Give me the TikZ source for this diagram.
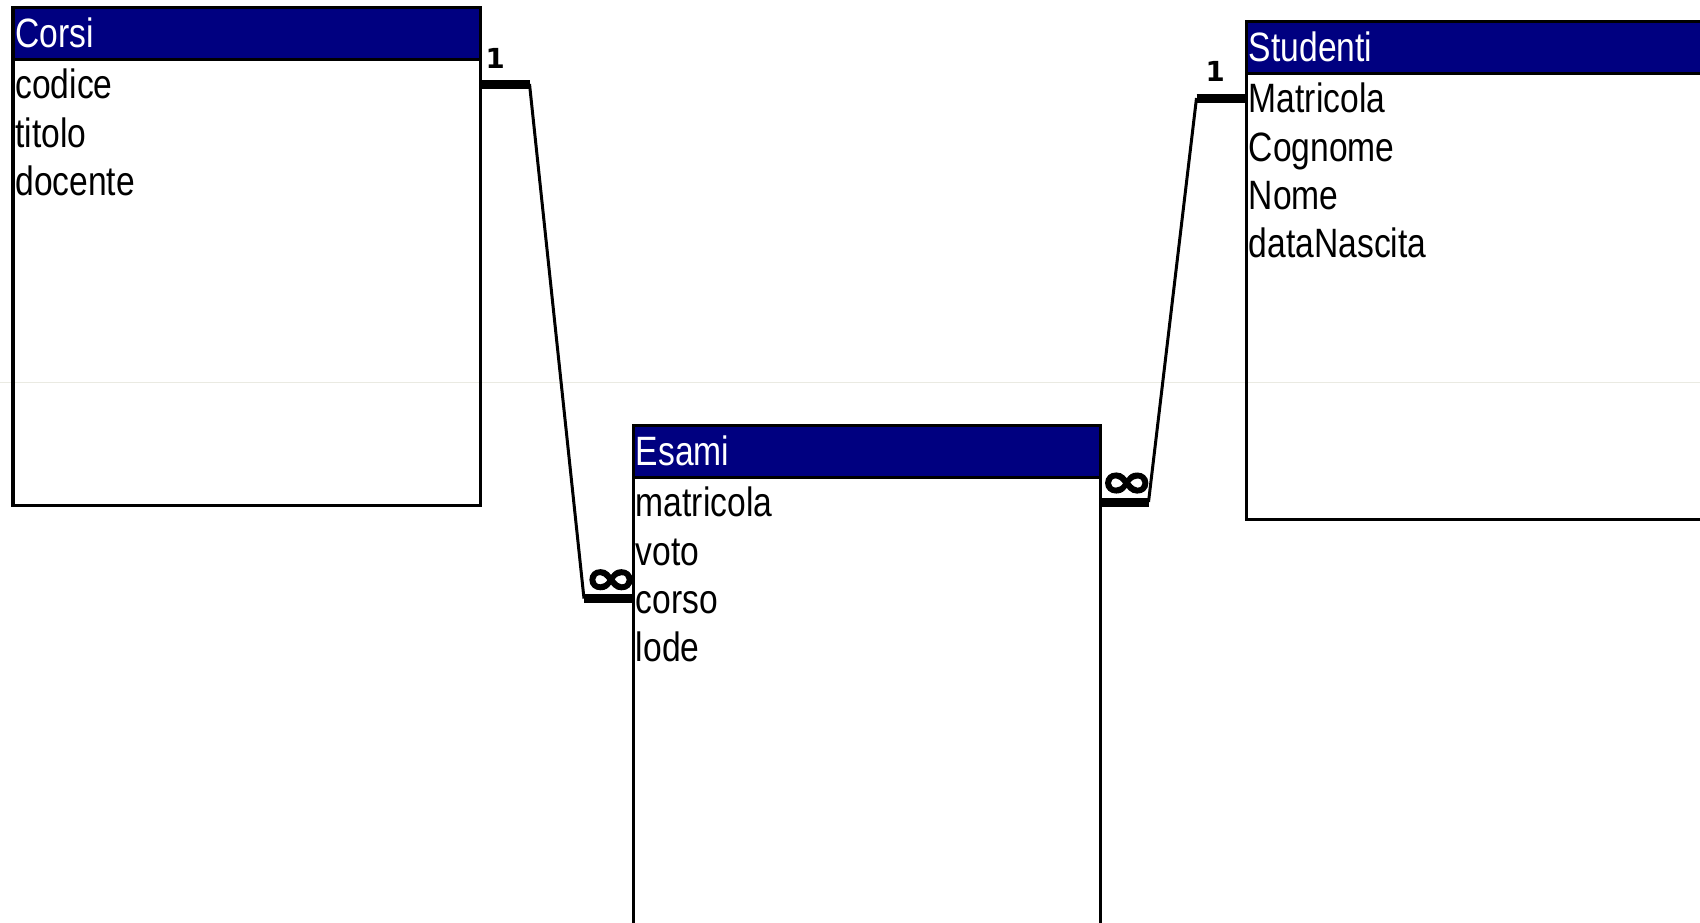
\documentclass[tikz,border=0pt]{standalone}
\usepackage{fontspec}
\usepackage{graphicx}
\usetikzlibrary{calc}
\newfontfamily\tfont{Liberation Sans}[FakeStretch=0.82]
\newfontfamily\lfont{DejaVu Sans}
\newfontfamily\infont{DejaVu Sans Bold}[FakeBold=2.5, FakeStretch=1.35]
\definecolor{hdrblue}{RGB}{0,0,128}
\definecolor{seam}{RGB}{234,234,226}
\tikzset{
  tblbox/.style={draw=black, line width=1.65pt, inner sep=0pt, outer sep=0pt, anchor=north west,
    minimum width=233.65pt, minimum height=248.8pt},
  tblline/.style={line width=1.65pt, black},
  hdrtxt/.style={anchor=base west, inner sep=0pt, text=white, font=\tfont\fontsize{20.5pt}{24pt}\selectfont},
  fld/.style={anchor=west, inner sep=0pt, text height=14.7pt, text depth=0pt, font=\tfont\fontsize{20.5pt}{24pt}\selectfont},
  relbar/.style={line width=4.5pt, black, line cap=butt},
  relline/.style={line width=1.5pt, black},
  onelbl/.style={anchor=base, inner sep=0pt, font=\lfont\bfseries\fontsize{13.8pt}{16pt}\selectfont},
  manylbl/.style={anchor=base, inner sep=0pt, font=\infont\fontsize{24pt}{28pt}\selectfont},
}
\begin{document}
\begin{tikzpicture}[x=0.5pt,y=-0.5pt]
\useasboundingbox (0,0) rectangle (1700,922);
\clip (0,0) rectangle (1700,922);
\fill[white] (0,0) rectangle (1700,922);
\draw[seam, line width=0.5pt] (0,382.3) -- (1700,382.3);

% ---- Corsi ----
\node[tblbox] (corsi) at (13,7.7) {};
\fill[hdrblue] ($(corsi.north west)+(1.5,1.5)$) rectangle ($(corsi.north east)+(-1.5,51.5)$);
\draw[tblline] ($(corsi.north west)+(0,51.5)$) -- ($(corsi.north east)+(0,51.5)$);
\node[hdrtxt] (corsi-h) at (15,47.7) {Corsi};
\node[fld] (fc1) at (15,84) {codice};
\node[fld] (fc2) at (15,132.3) {titolo};
\node[fld] (fc3) at (15,180.6) {docente};

% ---- Studenti ----
\node[tblbox] (stud) at (1246.5,21.7) {};
\fill[hdrblue] ($(stud.north west)+(1.5,1.5)$) rectangle ($(stud.north east)+(-1.5,51.5)$);
\draw[tblline] ($(stud.north west)+(0,51.5)$) -- ($(stud.north east)+(0,51.5)$);
\node[hdrtxt] (stud-h) at (1248.5,61.7) {Studenti};
\node[fld] (fs1) at (1248.5,98) {Matricola};
\node[fld] (fs2) at (1248.5,146.3) {Cognome};
\node[fld] (fs3) at (1248.5,194.6) {Nome};
\node[fld] (fs4) at (1248.5,242.9) {dataNascita};

% ---- Esami (runs past the lower edge) ----
\node[tblbox, minimum height=260pt] (esami) at (633.5,425.7) {};
\fill[hdrblue] ($(esami.north west)+(1.5,1.5)$) rectangle ($(esami.north east)+(-1.5,51.5)$);
\draw[tblline] ($(esami.north west)+(0,51.5)$) -- ($(esami.north east)+(0,51.5)$);
\node[hdrtxt] (esami-h) at (635.5,465.7) {Esami};
\node[fld] (fe1) at (635.5,502) {matricola};
\node[fld] (fe2) at (635.5,550.3) {voto};
\node[fld] (fe3) at (635.5,598.6) {corso};
\node[fld] (fe4) at (635.5,646.9) {lode};

% ---- relation Corsi.codice -> Esami.corso ----
\coordinate (k1) at (529.5,84);
\coordinate (k2) at (584,598.6);
\draw[relbar] (corsi.east |- fc1.west) -- (k1);
\draw[relline] (k1) -- (k2);
\draw[relbar] (k2) -- (esami.west |- fe3.west);
\node[onelbl] (one1) at (495.3,68.3) {1};
\node[manylbl] (many1) at (611,594) {∞};

% ---- relation Studenti.Matricola -> Esami.matricola ----
\coordinate (k3) at (1148.5,502);
\coordinate (k4) at (1196.5,98);
\draw[relbar] (esami.east |- fe1.west) -- (k3);
\draw[relline] (k3) -- (k4);
\draw[relbar] (k4) -- (stud.west |- fs1.west);
\node[onelbl] (one2) at (1215.3,81.7) {1};
\node[manylbl] (many2) at (1126.7,497.3) {∞};
\end{tikzpicture}
\end{document}
